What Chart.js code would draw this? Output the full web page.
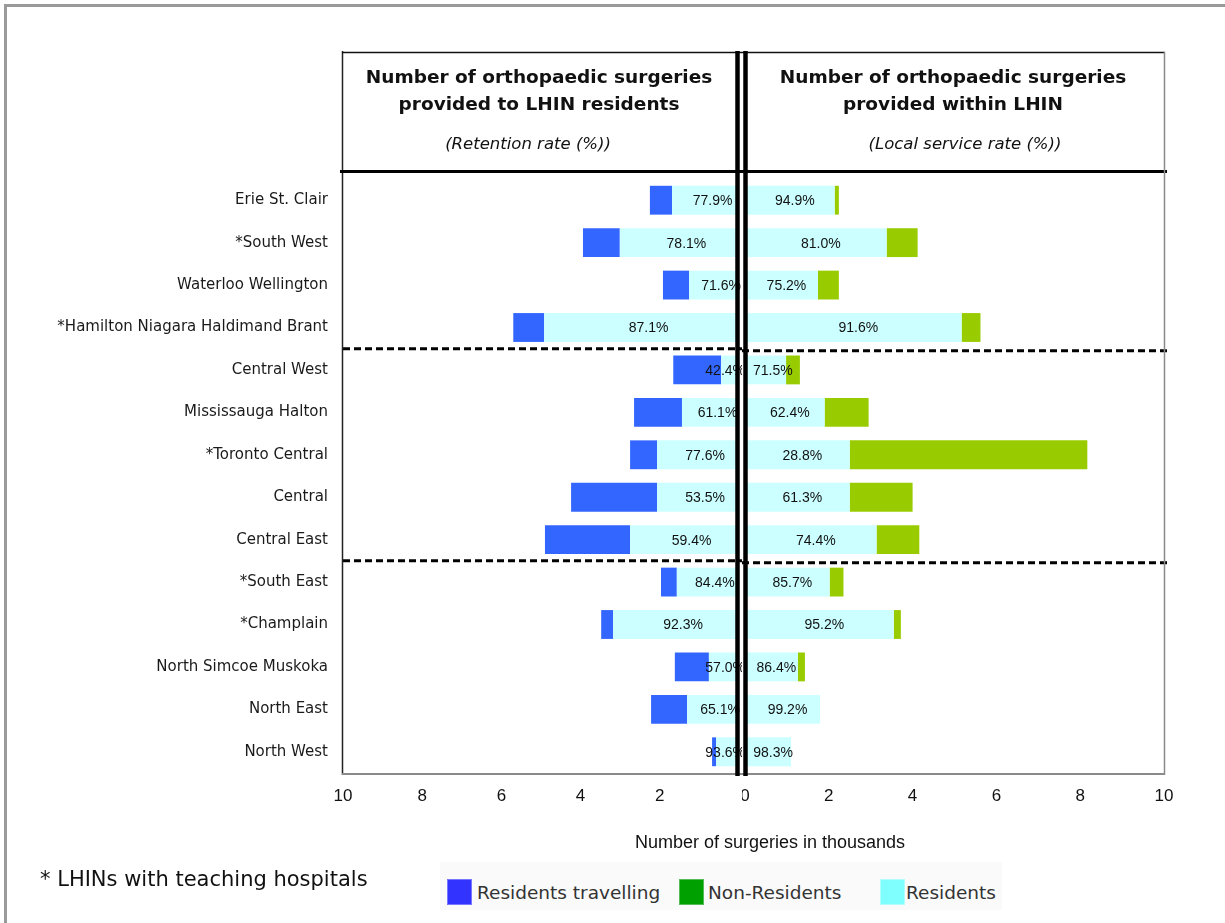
<!DOCTYPE html>
<html>
<head>
<meta charset="utf-8">
<script src="https://cdn.jsdelivr.net/npm/chart.js@4.4.0/dist/chart.umd.min.js"></script>
<style>
  html, body { margin:0; padding:0; background:#fff; }
  #page { position:relative; width:1225px; height:923px; overflow:hidden; background:#fff; }
  #frame { position:absolute; left:4px; top:4px; width:1240px; height:940px;
           border-top:3px solid #9a9a9a; border-left:3px solid #9a9a9a; }
  canvas { position:absolute; top:0; }
  #cL { left:0; }
  #cR { left:742px; }
  .txt { position:absolute; color:#111; white-space:nowrap; }
  .hdr { font:bold 18.5px "DejaVu Sans"; line-height:27px; text-align:center; }
  .sub { font:oblique 16.5px "DejaVu Sans"; transform:translate(-50%,-50%); }
  .mid { transform:translate(-50%,-50%); }
  #legend { position:absolute; left:440px; top:862px; width:562px; height:48px; background:#fafafa; }
  .sw { position:absolute; top:17px; width:25px; height:26px; box-sizing:border-box; }
  .lt { position:absolute; top:30px; transform:translateY(-50%); font:18.5px "DejaVu Sans"; color:#333; white-space:nowrap; }
</style>
</head>
<body>
<div id="page">
  <div id="frame"></div>
  <canvas id="cL" width="742" height="923"></canvas>
  <canvas id="cR" width="483" height="923"></canvas>

  <div class="txt hdr" style="left:343px;top:63px;width:392px;">Number of orthopaedic surgeries<br>provided to LHIN residents</div>
  <div class="txt hdr" style="left:748px;top:63px;width:410px;">Number of orthopaedic surgeries<br>provided within LHIN</div>
  <div class="txt sub" style="left:528px;top:143px;">(Retention rate (%))</div>
  <div class="txt sub" style="left:965px;top:143px;">(Local service rate (%))</div>

  <div class="txt mid" style="left:770px;top:842px;font:18px 'Liberation Sans';">Number of surgeries in thousands</div>
  <div class="txt" style="left:40px;top:879px;transform:translateY(-50%);font:21px 'DejaVu Sans';">* LHINs with teaching hospitals</div>

  <div id="legend">
    <div class="sw" style="left:7px;background:#3333ff;border:1px solid #7777ff;"></div>
    <div class="lt" style="left:37px;">Residents travelling</div>
    <div class="sw" style="left:239px;background:#00a000;border:1px solid #55bb55;"></div>
    <div class="lt" style="left:268px;">Non-Residents</div>
    <div class="sw" style="left:440px;background:#80ffff;border:1px solid #b0ffff;"></div>
    <div class="lt" style="left:466px;">Residents</div>
  </div>
</div>

<script>
/* ---------------------------
   Data (thousands of surgeries)
   --------------------------- */
const regions = ['Erie St. Clair','*South West','Waterloo Wellington','*Hamilton Niagara Haldimand Brant',
  'Central West','Mississauga Halton','*Toronto Central','Central','Central East',
  '*South East','*Champlain','North Simcoe Muskoka','North East','North West'];

// left panel: surgeries provided to LHIN residents
const residentsLocal = [1.69,3.01,1.26,4.92,0.45,1.44,2.07,2.07,2.75,1.57,3.18,0.76,1.31,0.58];
const residentsTravelling = [0.56,0.93,0.66,0.78,1.21,1.21,0.68,2.17,2.15,0.40,0.30,0.86,0.91,0.10];
const retentionRate = [77.9,78.1,71.6,87.1,42.4,61.1,77.6,53.5,59.4,84.4,92.3,57.0,65.1,93.6];

// right panel: surgeries provided within LHIN
const residentsServed = [2.14,3.38,1.74,5.17,0.98,1.90,2.50,2.50,3.14,2.02,3.55,1.26,1.79,1.10];
const nonResidents = [0.10,0.74,0.50,0.45,0.33,1.05,5.67,1.50,1.02,0.33,0.17,0.17,0,0];
const localServiceRate = [94.9,81.0,75.2,91.6,71.5,62.4,28.8,61.3,74.4,85.7,95.2,86.4,99.2,98.3];

const xTicks = [0,2,4,6,8,10];
const groupBreaks = [3, 8]; // dashed line drawn after these rows

const C_BLUE = '#3366ff', C_CYAN = '#ccffff', C_GREEN = '#99cc00';

/* ---------------------------
   Helpers
   --------------------------- */
function drawRateLabels(chart, rates, side){
  const {ctx, chartArea:a} = chart;
  const meta = chart.getDatasetMeta(0);
  ctx.save();
  ctx.font = '14px "Liberation Sans"';
  ctx.fillStyle = '#111';
  ctx.textAlign = 'center';
  ctx.textBaseline = 'middle';
  meta.data.forEach((bar, i) => {
    const txt = rates[i].toFixed(1) + '%';
    const w = ctx.measureText(txt).width;
    const c = (bar.x + bar.base) / 2;
    let x;
    if (side === 'left') x = Math.min(c + 7, a.right + 6 - w/2);
    else x = Math.max(c + 5, a.left + 8 + w/2);
    ctx.fillText(txt, x, bar.y + 1);
  });
  ctx.restore();
}

function drawBreaks(chart, x0, x1, dy){
  const {ctx, scales:{y}} = chart;
  ctx.save();
  ctx.strokeStyle = '#000';
  ctx.lineWidth = 3;
  ctx.setLineDash([7,4]);
  groupBreaks.forEach(i => {
    const yy = (y.getPixelForValue(i) + y.getPixelForValue(i+1)) / 2 + dy;
    ctx.beginPath(); ctx.moveTo(x0, yy); ctx.lineTo(x1, yy); ctx.stroke();
  });
  ctx.restore();
}

function line(ctx, x0, y0, x1, y1, w, col){
  ctx.save();
  ctx.strokeStyle = col; ctx.lineWidth = w;
  ctx.beginPath(); ctx.moveTo(x0, y0); ctx.lineTo(x1, y1); ctx.stroke();
  ctx.restore();
}

const leftDecor = {
  id:'leftDecor',
  afterDatasetsDraw(chart){
    const {ctx, chartArea:a} = chart;
    drawRateLabels(chart, retentionRate, 'left');
    drawBreaks(chart, a.left, 742, 0);
    line(ctx, 342.5, 51, 342.5, 775, 1.5, '#222');      // left border
    line(ctx, 342, 52.5, 742, 52.5, 1.5, '#111');        // header top
    line(ctx, 340, 171.5, 742, 171.5, 3, '#000');        // header bottom
    line(ctx, 342, 774, 742, 774, 2, '#8a8a8a');         // plot bottom
    line(ctx, 737.5, 51, 737.5, 776, 4.5, '#000');       // centre double line
  }
};

const rightDecor = {
  id:'rightDecor',
  afterDatasetsDraw(chart){
    const {ctx, chartArea:a} = chart;
    drawRateLabels(chart, localServiceRate, 'right');
    drawBreaks(chart, 0, a.right + 7, 2);
    line(ctx, 0, 52.5, a.right + 1, 52.5, 1.5, '#111');
    line(ctx, 0, 171.5, a.right + 3, 171.5, 3, '#000');
    line(ctx, a.right + 0.5, 52, a.right + 0.5, 775, 1.5, '#8a8a8a');
    line(ctx, 0, 774, a.right + 1, 774, 2, '#8a8a8a');
    line(ctx, 3.5, 51, 3.5, 776, 4.5, '#000');
  }
};

function xScale(reverse){
  return {
    stacked:true, min:0, max:10, reverse,
    grid:{display:false, drawTicks:false}, border:{display:false},
    afterBuildTicks: s => { s.ticks = xTicks.map(v => ({value:v})); },
    ticks:{
      font:{family:'Liberation Sans', size:17}, color:'#111', padding:13, maxRotation:0,
      // the shared 0 is printed once, under the right panel
      callback: v => (reverse && v === 0) ? '' : String(v)
    },
    afterFit: s => { s.height = 40; s.paddingLeft = 0; s.paddingRight = 0; }
  };
}

/* ---------------------------
   Left chart
   --------------------------- */
new Chart(document.getElementById('cL').getContext('2d'), {
  type:'bar',
  data:{
    labels: regions,
    datasets:[
      { label:'Residents', data: residentsLocal, backgroundColor: C_CYAN },
      { label:'Residents travelling', data: residentsTravelling, backgroundColor: C_BLUE }
    ]
  },
  options:{
    indexAxis:'y', responsive:false, animation:false,
    layout:{ padding:{ left:0, right:3, top:179, bottom:110 } },
    datasets:{ bar:{ categoryPercentage:1, barPercentage:0.68 } },
    plugins:{ legend:{display:false}, tooltip:{enabled:false} },
    scales:{
      x: xScale(true),
      y:{
        stacked:true,
        grid:{display:false, drawTicks:false}, border:{display:false},
        ticks:{ font:{family:'DejaVu Sans', size:15}, color:'#1a1a1a', padding:15, autoSkip:false },
        afterFit: s => { s.width = 343; }
      }
    }
  },
  plugins:[leftDecor]
});

/* ---------------------------
   Right chart
   --------------------------- */
new Chart(document.getElementById('cR').getContext('2d'), {
  type:'bar',
  data:{
    labels: regions,
    datasets:[
      { label:'Residents', data: residentsServed, backgroundColor: C_CYAN },
      { label:'Non-Residents', data: nonResidents, backgroundColor: C_GREEN }
    ]
  },
  options:{
    indexAxis:'y', responsive:false, animation:false,
    layout:{ padding:{ left:3, right:61, top:179, bottom:110 } },
    datasets:{ bar:{ categoryPercentage:1, barPercentage:0.68 } },
    plugins:{ legend:{display:false}, tooltip:{enabled:false} },
    scales:{
      x: xScale(false),
      y:{ stacked:true, display:false }
    }
  },
  plugins:[rightDecor]
});
</script>
</body>
</html>
